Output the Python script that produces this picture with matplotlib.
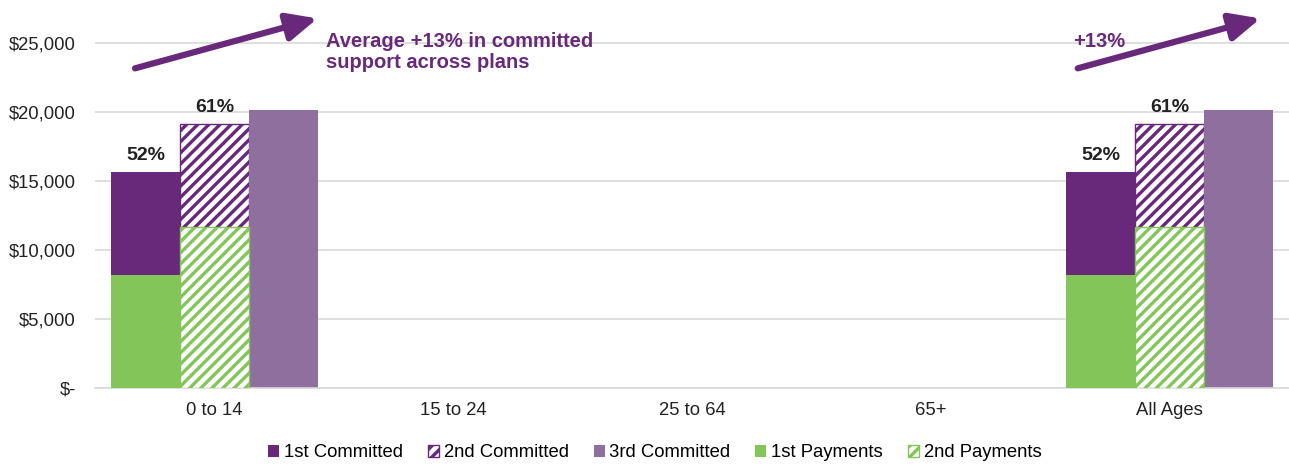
import matplotlib.pyplot as plt
from matplotlib.patches import Patch, FancyArrowPatch

plt.rcParams['font.family'] = ['Liberation Sans', 'DejaVu Sans']
plt.rcParams['hatch.linewidth'] = 2.4

nan = float('nan')
categories = ['0 to 14', '15 to 24', '25 to 64', '65+', 'All Ages']
committed_1 = [15650, nan, nan, nan, 15650]
committed_2 = [19130, nan, nan, nan, 19130]
committed_3 = [20150, nan, nan, nan, 20150]
payments_1 = [8190, nan, nan, nan, 8190]
payments_2 = [11670, nan, nan, nan, 11670]
pct_1 = ['52%', '', '', '', '52%']
pct_2 = ['61%', '', '', '', '61%']
yticks = [0, 5000, 10000, 15000, 20000, 25000]
ytick_labels = ['$-', '$5,000', '$10,000', '$15,000', '$20,000', '$25,000']

dark = '#68297A'
light_purple = '#8E6F9E'
green = '#84C55A'

fig = plt.figure(figsize=(12.89, 4.65), dpi=100)
ax = fig.add_axes([0.074, 0.1656, 0.926, 0.83])

x = list(range(len(categories)))
w = 0.289
xl = [i - w for i in x]
xr = [i + w for i in x]

ax.bar(xl, committed_1, w, color=dark, zorder=2)
ax.bar(x, committed_2, w, color='white', edgecolor=dark, hatch='///', linewidth=1, zorder=2)
ax.bar(xr, committed_3, w, color=light_purple, zorder=2)
ax.bar(xl, payments_1, w, color=green, zorder=3)
ax.bar(x, payments_2, w, color='white', edgecolor=green, hatch='///', linewidth=1, zorder=3)

for i in x:
    if pct_1[i]:
        ax.text(xl[i], committed_1[i] + 600, pct_1[i], ha='center', va='bottom',
                fontsize=14, fontweight='bold', color='#222222')
    if pct_2[i]:
        ax.text(x[i], committed_2[i] + 600, pct_2[i], ha='center', va='bottom',
                fontsize=14, fontweight='bold', color='#222222')

# trend arrows
for x0, x1 in [(-0.334, 0.43), (3.615, 4.38)]:
    arr = FancyArrowPatch((x0, 23190), (x1, 26810), arrowstyle='-|>,head_length=1.3,head_width=0.6',
                          mutation_scale=14, color=dark, linewidth=4.5, shrinkA=0, shrinkB=0)
    ax.add_patch(arr)

ax.text(0.468, 24400, 'Average +13% in committed\nsupport across plans', ha='left', va='center',
        fontsize=14.5, fontweight='bold', color=dark, linespacing=1.15)
ax.text(3.595, 25150, '+13%', ha='left', va='center', fontsize=14.5, fontweight='bold', color=dark)

ax.set_xlim(-0.5, 4.5)
ax.set_ylim(0, 28000)
ax.set_yticks(yticks)
ax.set_yticklabels(ytick_labels)
ax.set_xticks(x)
ax.set_xticklabels(categories)
ax.tick_params(axis='both', length=0, labelsize=13.3, colors='#222222')
ax.tick_params(axis='y', pad=14)
ax.tick_params(axis='x', pad=10)
ax.yaxis.grid(True, color='#D9D9D9', linewidth=1.2, zorder=0)
ax.set_axisbelow(True)
for s in ['top', 'right', 'left']:
    ax.spines[s].set_visible(False)
ax.spines['bottom'].set_color('#D9D9D9')
ax.spines['bottom'].set_linewidth(1.2)

handles = [
    Patch(facecolor=dark, label='1st Committed'),
    Patch(facecolor='white', edgecolor=dark, hatch='///', label='2nd Committed'),
    Patch(facecolor=light_purple, label='3rd Committed'),
    Patch(facecolor=green, label='1st Payments'),
    Patch(facecolor='white', edgecolor=green, hatch='///', label='2nd Payments'),
]
fig.legend(handles=handles, loc='center', bbox_to_anchor=(0.508, 0.026), ncol=5, frameon=False,
           fontsize=13.3, handlelength=0.6, handleheight=0.6, handletextpad=0.25, columnspacing=1.35)

fig.savefig('out.png', dpi=100)
